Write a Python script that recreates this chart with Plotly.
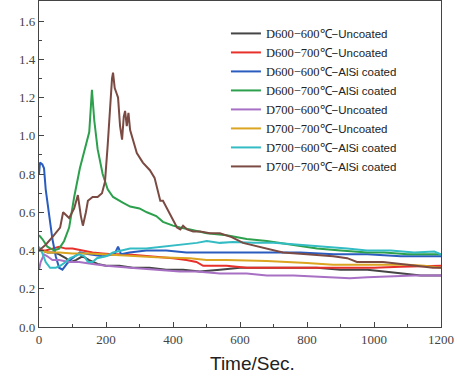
import plotly.graph_objects as go

names = ["D600−600℃−Uncoated", "D600−700℃−Uncoated", "D600−600℃−AlSi coated", "D600−700℃−AlSi coated",
         "D700−600℃−Uncoated", "D700−700℃−Uncoated", "D700−600℃−AlSi coated", "D700−700℃−AlSi coated"]
colors = ["#454545", "#e8302a", "#2a5cc0", "#2ca04c", "#a870c4", "#dba521", "#33bcc4", "#7b4b43"]

x_ticks = [0, 200, 400, 600, 800, 1000, 1200]
x_labels = ["0", "200", "400", "600", "800", "1000", "1200"]
y_ticks = [0.0, 0.2, 0.4, 0.6, 0.8, 1.0, 1.2, 1.4, 1.6]
y_labels = ["0.0", "0.2", "0.4", "0.6", "0.8", "1.0", "1.2", "1.4", "1.6"]

gray_x = [0,10,25,45,60,80,95,110,130,150,175,200,240,280,330,380,430,480,540,600,680,760,830,900,980,1030,1080,1140,1200]
gray_y = [0.40,0.40,0.39,0.39,0.38,0.36,0.34,0.35,0.37,0.35,0.33,0.32,0.32,0.31,0.31,0.30,0.30,0.29,0.30,0.31,0.31,0.31,0.31,0.30,0.30,0.29,0.28,0.27,0.27]

red_x = [0,20,40,60,80,100,130,160,190,220,260,300,350,400,440,470,490,520,560,620,700,800,900,1000,1080,1150,1200]
red_y = [0.40,0.40,0.41,0.42,0.41,0.41,0.40,0.39,0.385,0.38,0.38,0.375,0.37,0.36,0.35,0.34,0.32,0.32,0.32,0.31,0.31,0.31,0.31,0.31,0.315,0.32,0.32]

blue_x = [0,3,10,15,20,30,40,50,60,70,83,100,122,150,190,225,236,245,270,320,380,440,480,560,680,780,880,980,1080,1200]
blue_y = [0.80,0.86,0.85,0.83,0.72,0.58,0.46,0.37,0.31,0.30,0.33,0.36,0.39,0.38,0.37,0.38,0.42,0.38,0.39,0.40,0.40,0.39,0.39,0.39,0.39,0.39,0.38,0.38,0.37,0.37]

green_x = [0,10,25,45,60,75,90,105,122,140,150,158,165,175,190,205,221,250,272,300,322,350,370,400,421,451,501,560,620,680,760,830,900,980,1030,1100,1200]
green_y = [0.48,0.46,0.42,0.40,0.41,0.45,0.52,0.68,0.83,0.95,1.02,1.24,1.08,0.93,0.80,0.72,0.68,0.65,0.63,0.62,0.60,0.58,0.55,0.53,0.52,0.51,0.49,0.48,0.46,0.45,0.43,0.41,0.40,0.39,0.39,0.38,0.38]

purple_x = [0,5,15,25,40,60,90,120,160,200,272,350,420,471,540,620,680,760,850,928,980,1050,1120,1200]
purple_y = [0.30,0.34,0.38,0.37,0.35,0.35,0.34,0.34,0.33,0.32,0.31,0.30,0.29,0.29,0.28,0.28,0.27,0.27,0.26,0.255,0.26,0.265,0.27,0.27]

orange_x = [0,30,60,100,150,200,272,350,450,500,560,680,800,878,950,1030,1100,1150,1200]
orange_y = [0.40,0.39,0.39,0.385,0.385,0.38,0.37,0.365,0.36,0.35,0.35,0.345,0.335,0.325,0.325,0.325,0.325,0.32,0.31]

cyan_x = [0,9,20,33,50,63,80,93,120,135,146,160,173,200,221,250,272,320,370,420,471,501,540,579,640,700,779,850,920,979,1050,1120,1180,1200]
cyan_y = [0.42,0.39,0.34,0.31,0.31,0.32,0.34,0.36,0.38,0.37,0.34,0.34,0.36,0.37,0.39,0.40,0.41,0.41,0.42,0.43,0.44,0.45,0.44,0.445,0.44,0.44,0.43,0.42,0.41,0.40,0.40,0.39,0.395,0.38]

brown_x = [0,20,40,63,72,90,105,116,125,131,140,146,160,175,188,197,205,212,218,221,226,232,236,242,248,253,257,262,267,272,280,292,310,331,345,355,362,370,385,400,412,422,430,442,460,481,510,540,575,609,660,728,800,878,920,949,990,1027,1080,1130,1176,1200]
brown_y = [0.40,0.43,0.47,0.52,0.60,0.57,0.62,0.69,0.58,0.53,0.60,0.66,0.68,0.68,0.70,0.76,0.95,1.15,1.30,1.33,1.25,1.22,1.20,1.05,0.98,1.10,1.13,1.05,1.12,1.03,0.98,0.91,0.86,0.82,0.78,0.70,0.66,0.66,0.61,0.56,0.52,0.51,0.53,0.51,0.50,0.50,0.49,0.49,0.47,0.44,0.42,0.39,0.38,0.37,0.36,0.34,0.34,0.34,0.33,0.32,0.31,0.31]

series = [(gray_x, gray_y), (red_x, red_y), (blue_x, blue_y), (green_x, green_y),
          (purple_x, purple_y), (orange_x, orange_y), (cyan_x, cyan_y), (brown_x, brown_y)]

SERIF_SPAN = "<span style=\"font-family:'Liberation Serif',serif\">{}</span>"

def legend_label(n):
    head, tail = n.split("℃−")
    return ("<span style=\"font-family:'Liberation Serif',serif;font-size:12.5px\">" + head + "℃</span>"
            + "<span style=\"font-family:'Liberation Sans',sans-serif;font-size:11.5px\">−" + tail + "</span>")

fig = go.Figure()
for n, c, (xs, ys) in zip(names, colors, series):
    fig.add_trace(go.Scatter(x=xs, y=ys, mode="lines", name=legend_label(n),
                             line=dict(color=c, width=2)))

axis_common = dict(showline=True, linecolor="#444", linewidth=1.2, mirror=True, automargin=False,
                   ticks="inside", ticklen=5, tickcolor="#444", showgrid=False, zeroline=False,
                   tickfont=dict(size=13, color="#444"))
fig.update_xaxes(range=[0, 1200], tickmode="array", tickvals=x_ticks,
                 ticktext=[SERIF_SPAN.format(t) for t in x_labels],
                 minor=dict(ticks="inside", ticklen=3, dtick=100, tickcolor="#444"), **axis_common)
fig.update_yaxes(range=[0, 1.705], tickmode="array", tickvals=y_ticks,
                 ticktext=[SERIF_SPAN.format(t) for t in y_labels],
                 minor=dict(ticks="inside", ticklen=3, dtick=0.1, tickcolor="#444"), **axis_common)

fig.add_annotation(text="Time/Sec.", x=0.53, y=-0.075, xref="paper", yref="paper", showarrow=False,
                   yanchor="top", font=dict(family="Liberation Sans", size=19, color="#222"))

fig.update_layout(width=457, height=376, margin=dict(l=39, r=16, t=1, b=49),
                  paper_bgcolor="white", plot_bgcolor="white", showlegend=True,
                  legend=dict(x=0.465, y=0.945, xanchor="left", yanchor="top", bgcolor="rgba(0,0,0,0)",
                              itemwidth=30, tracegroupgap=0, font=dict(color="#222", size=11)))

fig.write_html("out.html", config={"displayModeBar": False},
               post_script="document.body.style.margin='0';document.body.style.padding='0';")
